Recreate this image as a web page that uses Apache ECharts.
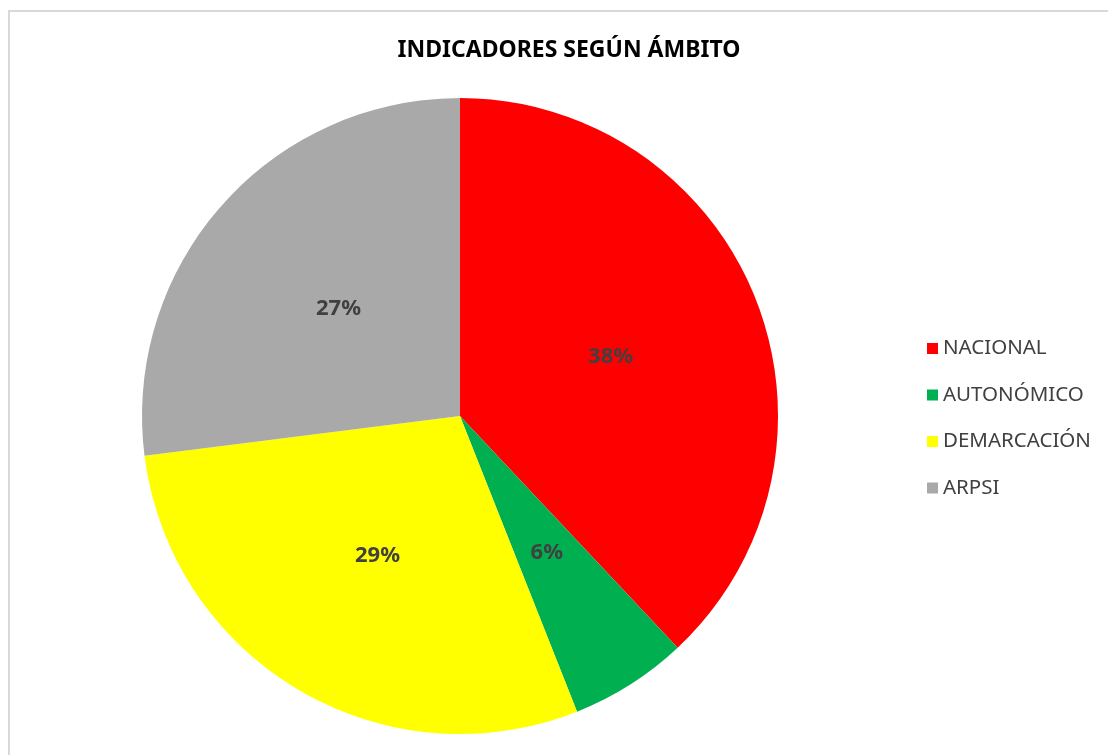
<!DOCTYPE html>
<html><head><meta charset="utf-8">
<script src="https://cdn.jsdelivr.net/npm/echarts@6/dist/echarts.min.js"></script>
<style>
html,body{margin:0;padding:0;background:#fff;}
#frame{position:absolute;left:8px;top:10px;width:1120px;height:760px;border:2px solid #d9d9d9;box-sizing:border-box;}
#c{position:absolute;left:0;top:0;width:1108px;height:755px;}
</style></head>
<body>
<div id="frame"></div>
<div id="c"></div>
<script>
const categories = ['NACIONAL', 'AUTONÓMICO', 'DEMARCACIÓN', 'ARPSI'];
const values = [38, 6, 29, 27];
const colors = ['#FF0000', '#00B050', '#FFFF00', '#A9A9A9'];

const chart = echarts.init(document.getElementById('c'), null, {renderer: 'canvas'});
chart.setOption({
  animation: false,
  title: {
    text: 'INDICADORES SEGÚN ÁMBITO',
    left: 564, top: 34, textAlign: 'center',
    textStyle: {fontFamily: 'Noto Sans', fontWeight: 'bold', fontSize: 23, color: '#000'}
  },
  legend: {
    orient: 'vertical',
    left: 922, top: 333,
    itemWidth: 11, itemHeight: 11, itemGap: 25.5,
    icon: 'rect',
    textStyle: {fontFamily: 'Noto Sans', fontSize: 20.5, color: '#404040', padding: [0,0,0,0]},
    data: categories
  },
  series: [{
    type: 'pie',
    center: [460, 416],
    radius: [0, 318],
    startAngle: 90,
    clockwise: true,
    itemStyle: {borderWidth: 0},
    label: {
      show: true, position: 'inside',
      formatter: p => p.value + '%',
      fontFamily: 'Noto Sans', fontWeight: 'bold', fontSize: 22, color: '#404040'
    },
    labelLine: {show: false},
    emphasis: {disabled: true},
    data: categories.map((n, i) => ({name: n, value: values[i], itemStyle: {color: colors[i]}}))
  }]
});
</script>
</body></html>
